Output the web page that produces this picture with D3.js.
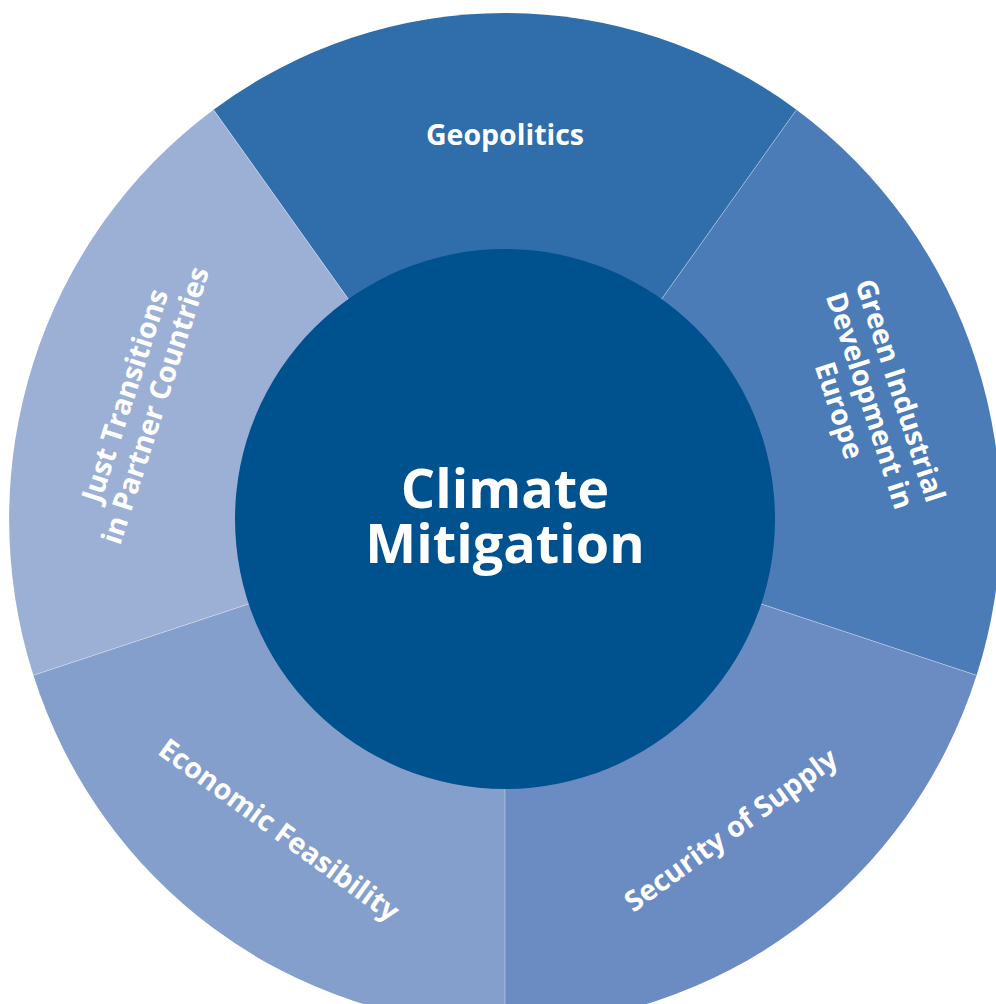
<!DOCTYPE html>
<meta charset="utf-8">
<head>
  <title>Climate Mitigation</title>
</head>
<style>
body {
  margin: 0;
  background: #fff;
  font-family: "Open Sans", "Noto Sans", sans-serif;
}
.label {
  fill: #fff;
  font-weight: 700;
  font-size: 28.5px;
}
.centre {
  fill: #fff;
  font-weight: 700;
  font-size: 54px;
}
</style>
<body>
  <svg width="996" height="1004"></svg>

  <script src="https://cdn.jsdelivr.net/npm/d3@7"></script>
  <script>
    // five equal topics around the core
    var topics = [
      ["Geopolitics"],
      ["Green Industrial", "Development in", "Europe"],
      ["Security of Supply"],
      ["Economic Feasibility"],
      ["Just Transitions", "in Partner Countries"]
    ];
    var shares = [1, 1, 1, 1, 1];
    var colours = ["#2f6eaa", "#4b7cb7", "#6a8cc2", "#849fcb", "#9cb0d6"];
    var coreLines = ["Climate", "Mitigation"];

    var cx = 505, cy = 519;
    var outerR = 506, innerR = 270, labelR = 384;

    var svg = d3.select("svg");

    var pie = d3.pie()
      .sort(null)
      .startAngle(-Math.PI / 5)
      .endAngle(2 * Math.PI - Math.PI / 5);

    var arcs = pie(shares);

    var arc = d3.arc()
      .innerRadius(0)
      .outerRadius(outerR);

    // the ring is a touch narrower than tall in the source
    var ring = svg.append("g")
      .attr("transform", "translate(" + cx + "," + cy + ") scale(0.98,1)");

    ring.selectAll("path.seg")
      .data(arcs)
      .enter().append("path")
      .attr("class", "seg")
      .attr("d", arc)
      .attr("fill", (d, i) => colours[i]);

    // thin light separators
    ring.selectAll("line.sep")
      .data(arcs)
      .enter().append("line")
      .attr("x1", 0).attr("y1", 0)
      .attr("x2", d => outerR * Math.sin(d.startAngle))
      .attr("y2", d => -outerR * Math.cos(d.startAngle))
      .attr("stroke", "#fff")
      .attr("stroke-opacity", 0.35)
      .attr("stroke-width", 1);

    var g = svg.append("g")
      .attr("transform", "translate(" + cx + "," + cy + ")");

    g.append("circle")
      .attr("r", innerR)
      .attr("fill", "#00528f");

    var labels = g.selectAll("g.lab")
      .data(arcs)
      .enter().append("g")
      .attr("class", "lab")
      .attr("transform", function(d) {
        var a = (d.startAngle + d.endAngle) / 2;
        var deg = a * 180 / Math.PI;
        var rot = deg;
        if (deg > 90 && deg < 270) rot = deg - 180;
        else if (deg >= 270) rot = deg - 360;
        var x = labelR * Math.sin(a), y = -labelR * Math.cos(a);
        return "translate(" + x + "," + y + ") rotate(" + rot + ")";
      });

    var lineH = 32;
    labels.each(function(d, i) {
      var lines = topics[i];
      var t = d3.select(this).append("text")
        .attr("class", "label")
        .attr("text-anchor", "middle");
      lines.forEach(function(s, j) {
        t.append("tspan")
          .attr("x", 0)
          .attr("y", (j - (lines.length - 1) / 2) * lineH)
          .attr("dy", "0.36em")
          .text(s);
      });
    });

    // two separate lines in the core
    g.selectAll("text.centre")
      .data(coreLines)
      .enter().append("text")
      .attr("class", "centre")
      .attr("text-anchor", "middle")
      .attr("x", 0)
      .attr("y", (d, j) => (j - 0.5) * 55 - 3)
      .attr("dy", "0.36em")
      .text(d => d);
  </script>
</body>
</html>
